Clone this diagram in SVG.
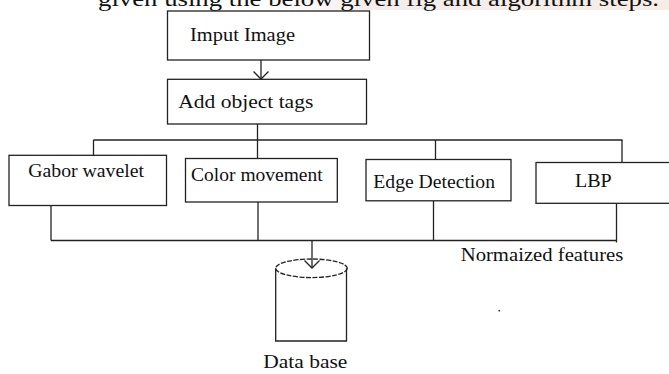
<svg xmlns="http://www.w3.org/2000/svg" width="669" height="374" viewBox="0 0 669 374">
<style>
.box{fill:#fff;stroke:#222;stroke-width:1.3}
.ln{fill:none;stroke:#222;stroke-width:1.3}
.t{font-family:"Liberation Serif","Times New Roman",serif;font-size:18px;fill:#111}
</style>
<defs>
<linearGradient id="bg" x1="0" y1="0" x2="1" y2="0">
<stop offset="0" stop-color="#ffffff"/>
<stop offset="0.25" stop-color="#f3eeec"/>
<stop offset="1" stop-color="#f7ece6"/>
</linearGradient>
<marker id="v" markerUnits="userSpaceOnUse" markerWidth="20" markerHeight="20" refX="10" refY="10" orient="auto" overflow="visible">
<path d="M2.5,2.5 L10,10 L2.5,17.5" fill="none" stroke="#222" stroke-width="1.3"/>
</marker>
</defs>
<rect width="669" height="374" fill="#fff"/>
<rect x="270" y="0" width="399" height="10" fill="url(#bg)"/>
<text class="t" x="98" y="6" style="font-size:22px" textLength="561" lengthAdjust="spacingAndGlyphs">given using the below given fig and algorithm steps.</text>
<g id="connectors">
<line class="ln" x1="261" y1="60" x2="261" y2="79" marker-end="url(#v)"/>
<line class="ln" x1="257.5" y1="124" x2="257.5" y2="158.5"/>
<line class="ln" x1="93.5" y1="140" x2="622.5" y2="140"/>
<line class="ln" x1="93.5" y1="140" x2="93.5" y2="155"/>
<line class="ln" x1="435.5" y1="140" x2="435.5" y2="159.5"/>
<line class="ln" x1="622" y1="140" x2="622" y2="165"/>
<line class="ln" x1="51" y1="205.5" x2="51" y2="240.5"/>
<line class="ln" x1="258" y1="202" x2="258" y2="240.5"/>
<line class="ln" x1="433.5" y1="201" x2="433.5" y2="240.5"/>
<line class="ln" x1="616.5" y1="203" x2="616.5" y2="242.5"/>
<line class="ln" x1="51" y1="240.5" x2="616.5" y2="240.5"/>
<line class="ln" x1="312" y1="240.5" x2="312" y2="268" marker-end="url(#v)"/>
<text class="t" x="460.7" y="260.7" textLength="162.6" lengthAdjust="spacingAndGlyphs">Normaized features</text>
</g>
<g id="input">
<rect class="box" x="167.5" y="11" width="202" height="49"/>
<text class="t" x="190" y="40.7" textLength="105" lengthAdjust="spacingAndGlyphs">Imput Image</text>
</g>
<g id="tags">
<rect class="box" x="167.5" y="79.3" width="199" height="44.7"/>
<text class="t" x="178.3" y="108.3" textLength="135" lengthAdjust="spacingAndGlyphs">Add object tags</text>
</g>
<g id="gabor">
<rect class="box" x="9" y="155.3" width="157.5" height="50.2"/>
<text class="t" x="28.3" y="177.3" textLength="115.7" lengthAdjust="spacingAndGlyphs">Gabor wavelet</text>
</g>
<g id="color">
<rect class="box" x="185.5" y="158.5" width="151.8" height="43.5"/>
<text class="t" x="191.1" y="180.7" textLength="131.6" lengthAdjust="spacingAndGlyphs">Color movement</text>
</g>
<g id="edge">
<rect class="box" x="366" y="159.5" width="145" height="41.3"/>
<text class="t" x="373.3" y="187.8" textLength="121.7" lengthAdjust="spacingAndGlyphs">Edge Detection</text>
</g>
<g id="lbp">
<rect class="box" x="536" y="162.5" width="140" height="40.8"/>
<text class="t" x="575" y="186.7" textLength="36.7" lengthAdjust="spacingAndGlyphs">LBP</text>
</g>
<g id="database">
<path class="ln" d="M275.7,268.3 V341 H346.5 V268.3"/>
<ellipse class="ln" cx="311.5" cy="268.3" rx="35.8" ry="9.3" stroke-dasharray="5,1.5"/>
<text class="t" x="263.3" y="368.3" textLength="84" lengthAdjust="spacingAndGlyphs">Data base</text>
</g>
<circle cx="499.3" cy="310.7" r="0.9" fill="#333"/>
</svg>
